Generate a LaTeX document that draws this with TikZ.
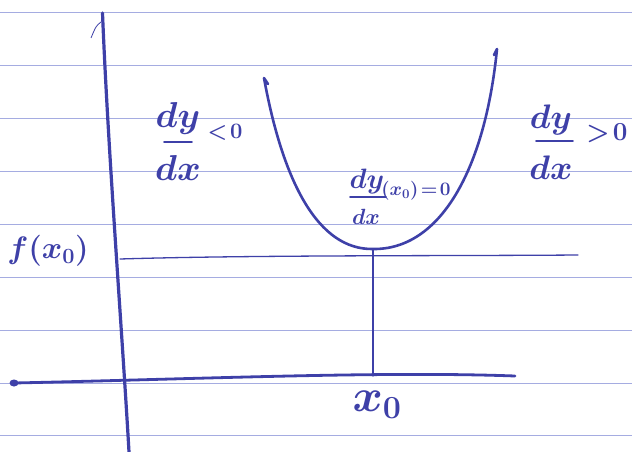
\documentclass[tikz,border=0pt]{standalone}
\usepackage{fix-cm}
\definecolor{ink}{RGB}{62,64,168}
\definecolor{paper}{RGB}{165,172,225}
\tikzset{
  pen/.style={draw=ink, line width=2.6pt, line cap=round, line join=round},
  thinpen/.style={draw=ink, line width=1.3pt, line cap=round},
  rule/.style={draw=paper, line width=0.9pt},
  lbl/.style={text=ink, inner sep=0pt, anchor=center},
}
\newcommand{\fsz}[1]{\fontsize{#1}{#1}\selectfont\boldmath}
\begin{document}
\begin{tikzpicture}[x=1pt,y=-1pt]
\useasboundingbox (0,0) rectangle (632,452);
\fill[white] (0,0) rectangle (632,452);
% ruled paper
\foreach \k in {0,...,8}
  \draw[rule] (0,{12.7+52.9*\k}) -- (632,{12.7+52.9*\k});

% named points
\coordinate (ytop) at (102.5,13);
\coordinate (ybot) at (129,452);
\coordinate (xleft) at (14,383);
\coordinate (xright) at (515,376);
\coordinate (fleft) at (120,259);
\coordinate (fright) at (578,255);
\coordinate (lt) at (264,78);
\coordinate (bottom) at (373,249);
\coordinate (rt) at (497,49);
\coordinate (foot) at (373,376);

% vertical axis
\draw[pen, line width=3.2pt] (ytop) .. controls (108,150) and (122,330) .. (ybot);
\draw[draw=ink, line width=0.8pt] (101,22) .. controls (96,26) .. (91,38);
% horizontal axis
\draw[pen, line width=2.8pt] (xleft) .. controls (200,379) and (380,371) .. (xright);
\fill[ink] (xleft) ellipse (4.5pt and 3.5pt);
% f(x0) level line
\draw[thinpen] (fleft) .. controls (250,255) and (450,256) .. (fright);
% parabola
\draw[pen] (268,84) -- (lt) .. controls (283,182) and (318,250) .. (bottom)
  .. controls (440,250) and (485,170) .. (rt) -- (494,55);
% drop line to x0
\draw[thinpen] (bottom) -- (foot);

% left label dy/dx < 0
\node[lbl, font=\fsz{36}] (ldy) at (178,118) {$dy$};
\node[lbl, font=\fsz{36}] (ldx) at (178,168) {$dx$};
\draw[thinpen, line width=1.8pt] (164,142) -- (192,142);
\node[lbl, font=\fsz{22}] (llt) at (225,132) {$<\!0$};

% right label dy/dx > 0
\node[lbl, font=\fsz{34}] (rdy) at (551,120) {$dy$};
\node[lbl, font=\fsz{34}] (rdx) at (551,168) {$dx$};
\draw[thinpen, line width=1.8pt] (536,141) -- (573,141);
\node[lbl, font=\fsz{26}] (rgt) at (607,133) {$>\!0$};

% middle label
\node[lbl, font=\fsz{28}] (mdy) at (367,181) {$dy$};
\draw[thinpen, line width=1.6pt] (350,197) -- (386,197);
\node[lbl, font=\fsz{22}] (mdx) at (366,217) {$dx$};
\node[lbl, font=\fsz{19}] (mx0) at (416,191) {$(x_0)\!=\!0$};

% f(x0)
\node[lbl, font=\fsz{31}] (fx0) at (48,251) {$f(x_0)$};
% x0
\node[lbl, font=\fsz{46}] (x0) at (377,405) {$x_0$};
\end{tikzpicture}
\end{document}
